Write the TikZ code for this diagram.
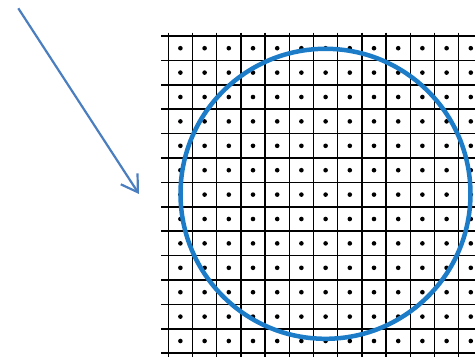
\documentclass[tikz,border=0pt]{standalone}
\usetikzlibrary{arrows.meta}
\definecolor{circblue}{HTML}{1C7CC8}
\definecolor{arrblue}{HTML}{4A7EBF}
\tikzset{
  gridline/.style={black, line width=1.5pt},
  gridpt/.style={fill=black},
  bigcircle/.style={draw=circblue, line width=4.5pt},
  pointer/.style={draw=arrblue, line width=2.2pt, -{Straight Barb[length=16pt,width=20pt]}}
}
\begin{document}
\begin{tikzpicture}[x=1pt,y=-1pt]
\useasboundingbox (0,0) rectangle (475,357);
% horizontal grid lines
\foreach \i in {0,...,13}{
  \draw[gridline] (161,{36+24.4*\i}) -- (475,{36+24.4*\i});
}
% vertical grid lines
\foreach \j in {0,...,12}{
  \draw[gridline] ({168.3+24.2*\j},32.7) -- ({168.3+24.2*\j},357);
}
% dots at cell centres
\foreach \i in {0,...,12}{
  \foreach \j in {0,...,12}{
    \fill[gridpt] ({168.3+24.2*(\j+0.5)},{36+24.4*(\i+0.5)}) circle (2.3);
  }
}
% circle
\node[bigcircle, circle, minimum size=290pt, inner sep=0pt] (c) at (325.5,193.8) {};
% arrow
\coordinate (s) at (18.3,8.3);
\coordinate (t) at (139,194);
\draw[pointer] (s) -- (t);
\end{tikzpicture}
\end{document}
